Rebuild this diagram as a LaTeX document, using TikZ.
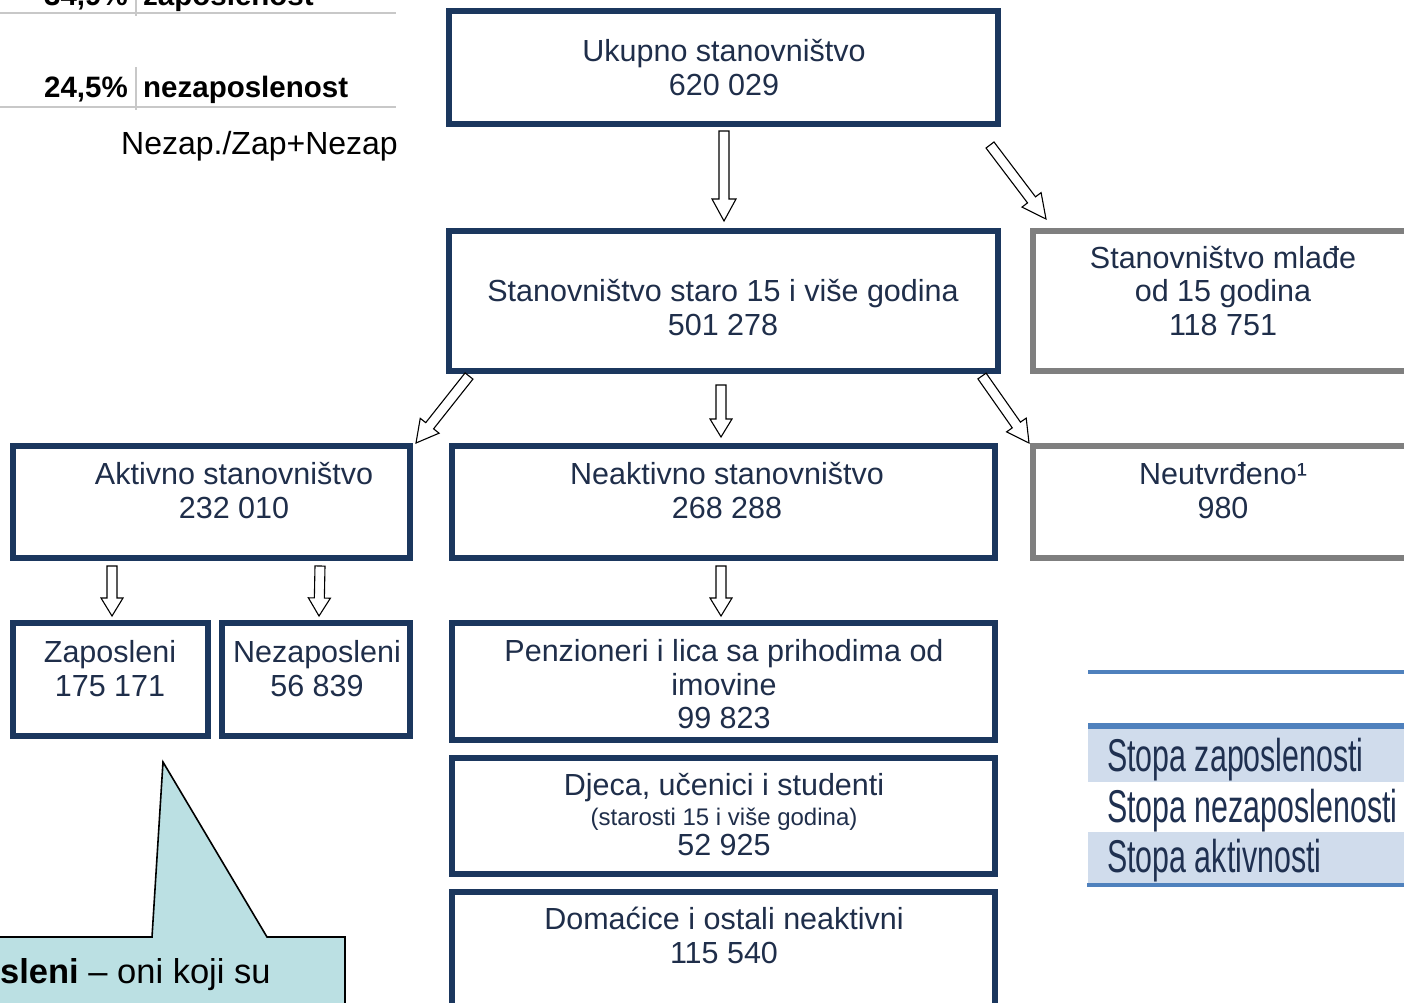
\documentclass[tikz,border=0pt]{standalone}
\usepackage{fontspec}
\setmainfont{Liberation Sans}
\usepackage{graphicx}
\usetikzlibrary{calc}
\definecolor{navy}{HTML}{1B375E}
\definecolor{txtcol}{HTML}{1F2E4A}
\definecolor{boxgray}{HTML}{7F7F7F}
\definecolor{tblue}{HTML}{4F81BD}
\definecolor{tshade}{HTML}{D0DCEC}
\definecolor{tbltxt}{HTML}{1F3050}
\definecolor{callfill}{HTML}{BBE0E3}
\definecolor{rulegray}{HTML}{C8C8C8}
\tikzset{
  box/.style={draw=navy, line width=6pt, inner sep=0pt, outer sep=0pt, rectangle, fill=white},
  graybox/.style={box, draw=boxgray},
  txt/.style={text=txtcol, font=\fontsize{30.5}{33.5}\selectfont, align=center, inner sep=0pt},
  barrowstyle/.style={draw=black, line width=1.1pt, fill=white, line join=miter},
  tbl/.style={text=tbltxt, inner sep=0pt, font=\fontsize{46}{50}\selectfont},
  toptxt/.style={text=black, inner sep=0pt, font=\fontsize{29.5}{32}\selectfont\bfseries},
}
% start, end, half shaft, half head, head length
\newcommand{\blockarrow}[5]{%
  \coordinate (bah) at ($(#2)!#5!(#1)$);
  \draw[barrowstyle] ($(#1)!#3!90:(#2)$) -- ($(bah)!#3!90:(#2)$) -- ($(bah)!#4!90:(#2)$)
    -- (#2) -- ($(bah)!#4!-90:(#2)$) -- ($(bah)!#3!-90:(#2)$) -- ($(#1)!#3!-90:(#2)$) -- cycle;
}
\begin{document}
\begin{tikzpicture}[x=1pt,y=-1pt]
\useasboundingbox (0,0) rectangle (1404,1002);
\fill[white] (0,0) rectangle (1404,1002);

% ---- top-left table fragment
\draw[rulegray, line width=1.5pt] (0,13) -- (396,13);
\draw[rulegray, line width=1.5pt] (136,-20) -- (136,16);
\draw[rulegray, line width=1.5pt] (0,107) -- (396,107);
\draw[rulegray, line width=1.5pt] (136,67) -- (136,110);
\node[toptxt, anchor=base east] (p1) at (128,5) {34,9\%};
\node[toptxt, anchor=base west] (t1) at (143,5) {zaposlenost};
\node[toptxt, anchor=base east] (p2) at (128,97) {24,5\%};
\node[toptxt, anchor=base west] (t2) at (143,97) {nezaposlenost};
\node[inner sep=0pt, anchor=east, font=\fontsize{32}{34}\selectfont] (formula) at (398,146) {Nezap./Zap+Nezap};

% ---- boxes
\node[box, minimum width=549pt, minimum height=113pt] (ukupno) at (723.5,67.5) {};
\node[box, minimum width=549pt, minimum height=140pt] (staro) at (723.5,301) {};
\node[graybox, minimum width=400pt, minimum height=140pt] (mladje) at (1233,301) {};
\node[box, minimum width=397pt, minimum height=112pt] (aktivno) at (211.5,502) {};
\node[box, minimum width=543pt, minimum height=112pt] (neaktivno) at (723.5,502) {};
\node[graybox, minimum width=400pt, minimum height=112pt] (neutvrdjeno) at (1233,502) {};
\node[box, minimum width=195pt, minimum height=113pt] (zaposleni) at (110.5,679.5) {};
\node[box, minimum width=188pt, minimum height=113pt] (nezaposleni) at (316,679.5) {};
\node[box, minimum width=543pt, minimum height=117pt] (penz) at (723.5,681.5) {};
\node[box, minimum width=543pt, minimum height=116pt] (djeca) at (723.5,816) {};
\node[box, minimum width=543pt, minimum height=140pt] (domacice) at (723.5,962) {};

% ---- texts
\node[txt] (tukupno) at (724,67.5) {Ukupno stanovništvo\\620 029};
\node[txt] (tstaro) at (723,307.5) {Stanovništvo staro 15 i više godina\\501 278};
\node[txt] (tmladje) at (1223,291) {Stanovništvo mlađe\\od 15 godina\\118 751};
\node[txt] (taktivno) at (234,490.5) {Aktivno stanovništvo\\232 010};
\node[txt] (tneaktivno) at (727,490.5) {Neaktivno stanovništvo\\268 288};
\node[txt] (tneutvrdjeno) at (1223,490.5) {Neutvrđeno¹\\980};
\node[txt] (tzaposleni) at (110,668.5) {Zaposleni\\175 171};
\node[txt] (tnezaposleni) at (317,668.5) {Nezaposleni\\56 839};
\node[txt] (tpenz) at (724,684.5) {Penzioneri i lica sa prihodima od\\imovine\\99 823};
\node[txt, font=\fontsize{30.5}{30}\selectfont] (tdjeca) at (724,815) {Djeca, učenici i studenti\\{\fontsize{24}{30}\selectfont (starosti 15 i više godina)}\\52 925};
\node[txt] (tdomacice) at (724,935.5) {Domaćice i ostali neaktivni\\115 540};

% ---- block arrows
\coordinate (a1s) at ($(ukupno.south)+(0.5,7)$);
\coordinate (a1e) at ($(staro.north)+(0.5,-10)$);
\blockarrow{a1s}{a1e}{5pt}{12pt}{22pt}
\coordinate (a2s) at (990,145);
\coordinate (a2e) at ($(mladje.north west)+(13,-12)$);
\blockarrow{a2s}{a2e}{5pt}{12pt}{24pt}
\coordinate (a3s) at ($(staro.south west)+(20,5)$);
\coordinate (a3e) at ($(aktivno.north east)+(6,-3)$);
\blockarrow{a3s}{a3e}{5pt}{12pt}{22pt}
\coordinate (a4s) at ($(staro.south)+(-2.5,14)$);
\coordinate (a4e) at ($(neaktivno.north)+(-2.5,-9)$);
\blockarrow{a4s}{a4e}{5pt}{11pt}{18pt}
\coordinate (a5s) at ($(staro.south east)+(-16,5)$);
\coordinate (a5e) at ($(neutvrdjeno.north west)+(-4,-3)$);
\blockarrow{a5s}{a5e}{5pt}{12pt}{22pt}
\coordinate (a6s) at ($(aktivno.south west)+(99,8)$);
\coordinate (a6e) at ($(zaposleni.north west)+(99,-7)$);
\blockarrow{a6s}{a6e}{5pt}{11pt}{18pt}
\coordinate (a7s) at ($(aktivno.south west)+(307,8)$);
\coordinate (a7e) at ($(nezaposleni.north west)+(97,-7)$);
\blockarrow{a7s}{a7e}{5pt}{11pt}{18pt}
\coordinate (a8s) at ($(neaktivno.south)+(-2.5,8)$);
\coordinate (a8e) at ($(penz.north)+(-2.5,-7)$);
\blockarrow{a8s}{a8e}{5pt}{11pt}{18pt}

% ---- callout
\draw[fill=callfill, line width=1.6pt, line join=miter] (-10,937) -- (152,937) -- (163,762) -- (267,937) -- (345,937) -- (345,1020) -- (-10,1020) -- cycle;
\node[inner sep=0pt, anchor=base west, font=\fontsize{34.5}{36}\selectfont] (callout) at (0,983) {\textbf{sleni} – oni koji su};

% ---- right table
\draw[tblue, line width=4.5pt] (1088,672) -- (1410,672);
\fill[tshade] (1088,728) rectangle (1410,782);
\fill[tshade] (1088,832) rectangle (1410,883);
\draw[tblue, line width=6pt] (1088,726) -- (1410,726);
\draw[tblue, line width=4.5pt] (1087,885) -- (1410,885);
\node[tbl, anchor=base west] (s1) at (1107,771) {\scalebox{0.66}[1]{Stopa zaposlenosti}};
\node[tbl, anchor=base west] (s2) at (1107,822) {\scalebox{0.66}[1]{Stopa nezaposlenosti}};
\node[tbl, anchor=base west] (s3) at (1107,872) {\scalebox{0.66}[1]{Stopa aktivnosti}};
\end{tikzpicture}
\end{document}
